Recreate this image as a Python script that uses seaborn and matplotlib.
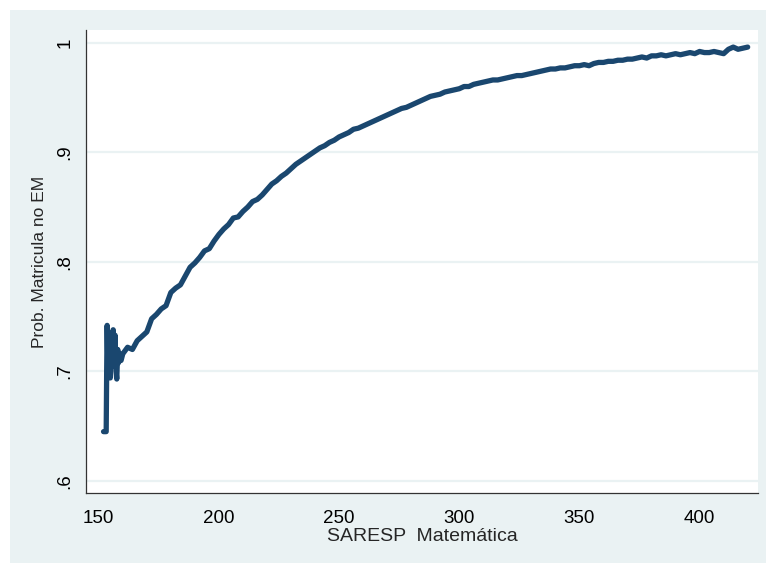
import numpy as np
import pandas as pd
import seaborn as sns
import matplotlib.pyplot as plt

# noisy start of the curve (low scores, few students)
score_low = [152.0, 153.1, 153.3, 153.5, 153.8, 154.1, 154.5, 154.8, 155.2, 155.6,
             156.0, 156.4, 156.8, 157.2, 157.5, 157.9, 158.3, 158.8, 159.3]
prob_low = [0.645, 0.645, 0.700, 0.742, 0.705, 0.735, 0.700, 0.694, 0.725, 0.705,
            0.738, 0.708, 0.733, 0.700, 0.693, 0.720, 0.708, 0.716, 0.710]

score_main = [160, 162, 164, 166, 168, 170, 172, 174, 176, 178,
              180, 182, 184, 186, 188, 190, 192, 194, 196, 198,
              200, 202, 204, 206, 208, 210, 212, 214, 216, 218,
              220, 222, 224, 226, 228, 230, 232, 234, 236, 238,
              240, 242, 244, 246, 248, 250, 252, 254, 256, 258,
              260, 262, 264, 266, 268, 270, 272, 274, 276, 278,
              280, 282, 284, 286, 288, 290, 292, 294, 296, 298,
              300, 302, 304, 306, 308, 310, 312, 314, 316, 318,
              320, 322, 324, 326, 328, 330, 332, 334, 336, 338,
              340, 342, 344, 346, 348, 350, 352, 354, 356, 358,
              360, 362, 364, 366, 368, 370, 372, 374, 376, 378,
              380, 382, 384, 386, 388, 390, 392, 394, 396, 398,
              400, 402, 404, 406, 408, 410, 412, 414, 416, 418, 420]
prob_main = [0.716, 0.722, 0.720, 0.728, 0.732, 0.736, 0.748, 0.752, 0.757, 0.760,
             0.772, 0.776, 0.779, 0.787, 0.795, 0.799, 0.804, 0.810, 0.812, 0.819,
             0.825, 0.830, 0.834, 0.840, 0.841, 0.846, 0.850, 0.855, 0.857, 0.861,
             0.866, 0.871, 0.874, 0.878, 0.881, 0.885, 0.889, 0.892, 0.895, 0.898,
             0.901, 0.904, 0.906, 0.909, 0.911, 0.914, 0.916, 0.918, 0.921, 0.922,
             0.924, 0.926, 0.928, 0.930, 0.932, 0.934, 0.936, 0.938, 0.940, 0.941,
             0.943, 0.945, 0.947, 0.949, 0.951, 0.952, 0.953, 0.955, 0.956, 0.957,
             0.958, 0.960, 0.960, 0.962, 0.963, 0.964, 0.965, 0.966, 0.966, 0.967,
             0.968, 0.969, 0.970, 0.970, 0.971, 0.972, 0.973, 0.974, 0.975, 0.976,
             0.976, 0.977, 0.977, 0.978, 0.979, 0.979, 0.980, 0.979, 0.981, 0.982,
             0.982, 0.983, 0.983, 0.984, 0.984, 0.985, 0.985, 0.986, 0.987, 0.986,
             0.988, 0.988, 0.989, 0.988, 0.989, 0.990, 0.989, 0.990, 0.991, 0.990,
             0.992, 0.991, 0.991, 0.992, 0.991, 0.990, 0.994, 0.996, 0.994, 0.995, 0.996]

y_ticks = [0.6, 0.7, 0.8, 0.9, 1.0]
y_ticklabels = ['.6', '.7', '.8', '.9', '1']
x_ticks = [150, 200, 250, 300, 350, 400]

df = pd.DataFrame({'score': score_low + score_main, 'prob': prob_low + prob_main})

sns.set_style('white')
plt.rcParams['font.family'] = ['Liberation Sans', 'DejaVu Sans']

bg = '#eaf2f3'
fig = plt.figure(figsize=(7.66, 5.63), dpi=100, facecolor='white')
# stata-like outer panel, behind everything
back = fig.add_axes([10 / 766, 0, 1 - 10 / 766, 553 / 563], zorder=-5)
back.set_facecolor(bg)
back.set_xticks([])
back.set_yticks([])
for s in back.spines.values():
    s.set_visible(False)

ax = fig.add_axes([86 / 766, 70 / 563, 672 / 766, 463 / 563])
ax.set_facecolor('white')

for yt in y_ticks:
    ax.axhline(yt, color=bg, lw=1.6, zorder=1)

sns.lineplot(data=df, x='score', y='prob', color='#1a476f', linewidth=3.8,
             sort=False, ax=ax, zorder=3)

ax.set_xlim(144.7, 424.3)
ax.set_ylim(0.589, 1.0116)
ax.set_xticks(x_ticks)
ax.set_yticks(y_ticks)
ax.set_yticklabels(y_ticklabels, rotation=90, va='center')
ax.tick_params(axis='both', direction='out', length=5, width=0.8, color='#444444',
               labelsize=13.5, labelcolor='black', pad=4)
ax.tick_params(axis='x', pad=7)

for s in ['top', 'right']:
    ax.spines[s].set_visible(False)
for s in ['left', 'bottom']:
    ax.spines[s].set_color('#333333')
    ax.spines[s].set_linewidth(0.9)

ax.set_xlabel('SARESP  Matemática', fontsize=14, labelpad=1)
ax.set_ylabel('Prob. Matricula no EM', fontsize=12.5, labelpad=7)

fig.savefig('out.png', dpi=100, facecolor='white')
